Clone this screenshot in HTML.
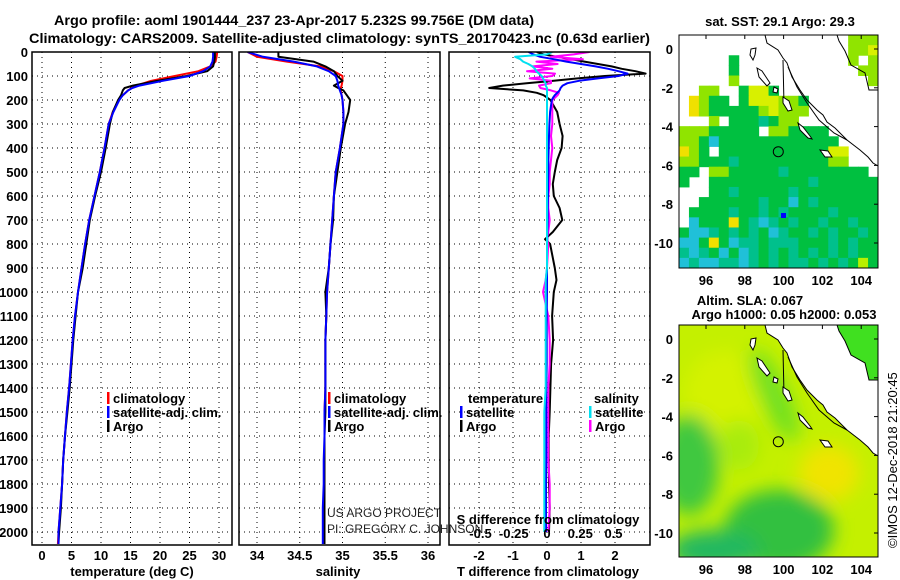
<!DOCTYPE html>
<html><head><meta charset="utf-8"><style>
html,body{margin:0;padding:0;background:#fff}
svg{display:block;font-family:"Liberation Sans",sans-serif}
.b{font-weight:bold}
</style></head><body>
<svg id="fig" width="900" height="580" viewBox="0 0 900 580" xmlns="http://www.w3.org/2000/svg">
<defs>
<clipPath id="c1"><rect x="32" y="52" width="200" height="493"/></clipPath>
<clipPath id="c2"><rect x="239" y="52" width="201" height="493"/></clipPath>
<clipPath id="c3"><rect x="449" y="52" width="201" height="493"/></clipPath>
<clipPath id="m1c"><rect x="0" y="0" width="199" height="233"/></clipPath>
<clipPath id="m2c"><rect x="0" y="0" width="199" height="232"/></clipPath>
<filter id="blur" x="-30%" y="-30%" width="160%" height="160%"><feGaussianBlur stdDeviation="9"/></filter>
</defs>
<text class="b" x="54" y="25" font-size="14" textLength="480" lengthAdjust="spacingAndGlyphs">Argo profile: aoml 1901444_237 23-Apr-2017 5.232S 99.756E (DM data)</text>
<text class="b" x="29" y="43" font-size="14" textLength="621" lengthAdjust="spacingAndGlyphs">Climatology: CARS2009. Satellite-adjusted climatology: synTS_20170423.nc (0.63d earlier)</text>
<g id="grid"></g>
<g id="series"></g>
<g id="frames" fill="none" stroke="#000" stroke-width="1.5">
<rect x="32" y="52" width="200" height="493"/>
<rect x="239" y="52" width="201" height="493"/>
<rect x="449" y="52" width="201" height="493"/>
</g>
<g id="labels" class="b" font-size="13"></g>
<text class="b" x="132" y="576" font-size="13" text-anchor="middle">temperature (deg C)</text>
<text class="b" x="338" y="576" font-size="13" text-anchor="middle">salinity</text>
<text class="b" x="548" y="576" font-size="13" text-anchor="middle">T difference from climatology</text>
<text class="b" x="548" y="524" font-size="13" text-anchor="middle">S difference from climatology</text>
<text x="327" y="517" font-size="12" fill="#222">US ARGO PROJECT</text>
<text x="327" y="533" font-size="12" fill="#222">PI: GREGORY C. JOHNSON</text>
<g id="legends" class="b" font-size="13"></g>

<text class="b" x="780" y="26" font-size="13" text-anchor="middle">sat. SST: 29.1 Argo: 29.3</text>
<g transform="translate(679,35)">
<g clip-path="url(#m1c)">
<rect width="199" height="233" fill="#fff"/>
<g id="sstcells"></g>
<g class="coast"></g>
<circle cx="99.3" cy="116.7" r="5" fill="none" stroke="#000" stroke-width="1"/>
</g>
<rect width="199" height="233" fill="none" stroke="#000" stroke-width="1"/>
</g>
<g id="m1ticks" class="b" font-size="13"></g>

<text class="b" x="750" y="305" font-size="13" text-anchor="middle">Altim. SLA: 0.067</text>
<text class="b" x="784" y="319" font-size="13" text-anchor="middle">Argo h1000: 0.05 h2000: 0.053</text>
<g transform="translate(679,325)">
<g clip-path="url(#m2c)">
<rect width="199" height="232" fill="#c4f000"/>
<g filter="url(#blur)">
<ellipse cx="45" cy="70" rx="40" ry="45" fill="#d4f200"/>
<ellipse cx="10" cy="140" rx="30" ry="50" fill="#40c840"/>
<ellipse cx="100" cy="205" rx="55" ry="40" fill="#30c040"/>
<ellipse cx="35" cy="225" rx="45" ry="20" fill="#20b860"/>
<ellipse cx="95" cy="70" rx="14" ry="50" fill="#70e020" transform="rotate(-25 95 70)"/>
<ellipse cx="150" cy="148" rx="30" ry="28" fill="#f0e400"/>
<ellipse cx="60" cy="120" rx="20" ry="25" fill="#a8ec10"/>
</g>
<polygon points="86,0 88,8 99,15 104,23 108,28 113,42 121,55 128,65 138,75 144,80 148,87 156,93 168,105 181,115 189,122 194,128 199,131 199,0" fill="#fff"/>
<polygon points="158,0 199,0 199,55 190,55 186,38 172,30 166,16 160,6" fill="#40e020"/>
<g class="coast"></g>
<circle cx="99.3" cy="116.7" r="5" fill="none" stroke="#000" stroke-width="1"/>
</g>
<rect width="199" height="232" fill="none" stroke="#000" stroke-width="1"/>
</g>
<g id="m2ticks" class="b" font-size="13"></g>
<text x="0" y="0" font-size="13" transform="translate(897,548) rotate(-90)">©IMOS 12-Dec-2018 21:20:45</text>
</svg>
<script>
const depths=[0,20,40,60,80,100,120,140,150,160,180,200,250,300,400,500,600,700,800,900,1000,1100,1200,1300,1400,1500,1600,1700,1800,1900,2000,2050];
const tempArgo=[29.3,29.3,29.2,29.0,28.0,24.5,19.5,15.4,14.0,13.7,13.4,12.9,12.0,11.5,10.8,10.0,9.0,8.1,7.5,6.9,6.1,5.7,5.3,5.0,4.7,4.3,3.9,3.6,3.4,3.2,2.9,2.8];
const tempClim=[29.7,29.6,29.4,28.5,26.5,22.5,18.5,16.0,15.2,14.6,13.7,13.0,12.0,11.3,10.6,9.8,8.9,8.0,7.3,6.7,6.1,5.6,5.2,4.9,4.6,4.2,3.9,3.6,3.4,3.1,2.8,2.7];
const tempSat=[29.0,29.0,28.9,28.5,27.3,25.0,20.5,16.5,15.3,14.6,13.7,13.1,12.1,11.3,10.6,9.8,8.9,8.0,7.3,6.7,6.1,5.6,5.2,4.9,4.6,4.2,3.9,3.6,3.4,3.1,2.8,2.8];
const salArgo=[34.25,34.25,34.66,34.8,34.9,34.94,35.0,34.9,34.95,35.01,35.05,35.09,35.07,35.03,34.98,34.94,34.9,34.89,34.86,34.84,34.8,34.81,34.8,34.8,34.8,34.8,34.79,34.79,34.79,34.79,34.79,34.79];
const salClim=[33.89,34.0,34.35,34.74,34.9,35.0,35.0,34.99,34.98,34.98,34.99,35.0,35.01,35.01,34.97,34.92,34.9,34.88,34.86,34.84,34.82,34.81,34.8,34.8,34.8,34.79,34.79,34.79,34.79,34.78,34.78,34.78];
const salSat=[33.89,34.07,34.43,34.7,34.84,34.92,34.94,34.95,34.96,34.97,34.99,35.0,35.01,35.01,34.97,34.92,34.9,34.88,34.86,34.84,34.82,34.81,34.8,34.8,34.8,34.79,34.79,34.78,34.78,34.77,34.77,34.77];
const diffDepths=[0,10,20,30,40,50,60,70,80,90,100,110,120,130,140,150,160,170,180,190,200,250,300,350,400,450,500,550,600,650,700,750,780,800,900,950,1000,1100,1200,1300,1400,1500,1600,1700,1800,1900,2000];
const tDiffArgo=[-0.3,-0.1,0.3,0.7,1.1,1.5,1.9,2.2,2.6,2.9,1.7,0.9,0.2,-0.6,-1.3,-1.7,-0.7,-0.3,-0.1,0.0,0.1,0.3,0.37,0.46,0.43,0.3,0.23,0.17,0.2,0.37,0.45,0.17,-0.06,0.09,0.23,0.28,0.2,0.15,0.18,0.12,0.1,0.08,0.05,0.05,0.06,0.08,0.06];
const tDiffSat=[-0.54,-0.4,-0.2,0.2,0.57,1.0,1.43,1.8,2.1,2.37,2.1,1.5,0.94,0.6,0.46,0.4,0.37,0.3,0.23,0.18,0.14,0.09,0.07,0.06,0.05,0.04,0.04,0.03,0.03,0.02,0.02,0.01,0.01,0.0,0.0,0.0,0.0,-0.01,-0.01,-0.01,-0.02,-0.02,-0.02,-0.02,-0.03,-0.03,-0.03];
const sDiffArgo=[0.32,0.2,0.03,0.27,-0.08,0.08,-0.11,0.04,-0.15,0.06,0.04,-0.13,0.03,0.03,-0.06,-0.05,0.03,0.09,0.08,0.06,0.04,0.04,0.04,0.03,0.04,0.03,0.02,0.02,0.01,0.01,0.02,0.01,0,0.01,0,-0.01,-0.03,0.01,0.02,0.02,0.01,0.01,0.01,0.01,0.02,0.02,0.01];
const sDiffSat=[0.04,0,-0.24,-0.2,-0.18,-0.14,-0.11,-0.09,-0.08,-0.06,-0.04,-0.03,-0.02,-0.01,-0.01,0,0,0,0,0,0,0,0,0,0,0,0,0,0,0,0,0,0,0,0,-0.01,-0.01,-0.01,-0.01,-0.01,-0.01,-0.02,-0.02,-0.02,-0.02,-0.02,-0.02];
const depthTicks=[0,100,200,300,400,500,600,700,800,900,1000,1100,1200,1300,1400,1500,1600,1700,1800,1900,2000];
const tempTicks=[0,5,10,15,20,25,30];
const salTicks=[34,34.5,35,35.5,36];
const tDiffTicks=[-2,-1,0,1,2];
const sDiffTicks=[-0.5,-0.25,0,0.25,0.5];
const sDiffTickLabels=["-0.5","-0.25","0","0.25","0.5"];
const lonTicks=[96,98,100,102,104];
const latTicks=[0,-2,-4,-6,-8,-10];
const sstGrid=[
".................lll",
".................lly",
".....g...........l.l",
".....g............ll",
".....l.............l",
"..ll..gyyg..........",
".Ylgg.gyyyllg.......",
".Ylggggglylll.......",
"...l.gggtgll........",
"lllggggg.llgggg.....",
"llgcgggggggggggg....",
"Ylg.gggggggggggyy...",
"llgggtgggggggggll...",
"gg.llgggggtgggggggg.",
"g..ggggggggggtgggggg",
"...ggtgggggtgggggggg",
"..ggggggtggcgtgggggg",
".ggggtggtgtggggtgggg",
".cgggYgtctgtggtggtgg",
"gcctgtgtgctggtgtggtg",
"ccgYgcttgtttgggtgtgg",
"tctgcgctgtgtgtgtgtgg",
"ctccttctgtgttgtgtgLg"];

const NS="http://www.w3.org/2000/svg";
function mk(tag,attrs,parent){const e=document.createElementNS(NS,tag);for(const k in attrs)e.setAttribute(k,attrs[k]);parent.appendChild(e);return e;}
const yD=d=>52+d*0.24;
const xT=t=>42+t*5.9;
const xS=s=>257+(s-34)*85.5;
const xTd=v=>547+v*34;
const xSd=v=>547+v*133;
const grid=document.getElementById('grid'),series=document.getElementById('series'),labels=document.getElementById('labels');
const panels=[[32,232],[239,440],[449,650]];
// horizontal grid
depthTicks.forEach(d=>{panels.forEach(p=>{const l=mk('line',{x1:p[0],x2:p[1],y1:yD(d),y2:yD(d),stroke:'#000','stroke-width':1,'stroke-dasharray':'1,4'},grid);

});
const t=mk('text',{x:28,y:yD(d)+5,'text-anchor':'end'},labels);t.textContent=d;

});
function vgrid(ticks,fx,lbls,ylab,withGrid){ticks.forEach((v,i)=>{const x=fx(v);
if(withGrid){const l=mk('line',{x1:x,x2:x,y1:52,y2:545,stroke:'#000','stroke-width':1,'stroke-dasharray':'1,4'},grid);

}
const t=mk('text',{x:x,y:ylab,'text-anchor':'middle'},labels);t.textContent=lbls?lbls[i]:v;

});}
vgrid(tempTicks,xT,null,560,true);
vgrid(salTicks,xS,null,560,true);
vgrid(tDiffTicks,xTd,null,560,true);
vgrid(sDiffTicks,xSd,sDiffTickLabels,538,false);
function line(xs,ds,fx,color,clip,name,w){const pts=xs.map((v,i)=>fx(v).toFixed(1)+','+yD(ds[i]).toFixed(1)).join(' ');
const p=mk('polyline',{points:pts,fill:'none',stroke:color,'stroke-width':w||2,'clip-path':'url(#'+clip+')','stroke-linejoin':'round'},series);

}
line(tempClim,depths,xT,'#ff0000','c1','temperature-climatology-line');
line(tempArgo,depths,xT,'#000000','c1','temperature-argo-line');
line(tempSat,depths,xT,'#0000ff','c1','temperature-satellite-line');
line(salClim,depths,xS,'#ff0000','c2','salinity-climatology-line');
line(salArgo,depths,xS,'#000000','c2','salinity-argo-line');
line(salSat,depths,xS,'#0000ff','c2','salinity-satellite-line');
line(tDiffArgo,diffDepths,xTd,'#000000','c3','t-diff-argo-line');
line(sDiffArgo,diffDepths,xSd,'#ff00ff','c3','s-diff-argo-line');
line(tDiffSat,diffDepths,xTd,'#0000ff','c3','t-diff-satellite-line');
line(sDiffSat,diffDepths,xSd,'#00e0f0','c3','s-diff-satellite-line');
// legends
const lg=document.getElementById('legends');
function leg(x,y,color,txt,name){const r=mk('rect',{x:x,y:y-11,width:2.5,height:12,fill:color},lg);


const t=mk('text',{x:x+6,y:y},lg);t.textContent=txt;

}
leg(107,403,'#ff0000','climatology','legend-climatology');
leg(107,417,'#0000ff','satellite-adj. clim.','legend-satellite-adj');
leg(107,431,'#000','Argo','legend-argo');
leg(328,403,'#ff0000','climatology','legend-sal-climatology');
leg(328,417,'#0000ff','satellite-adj. clim.','legend-sal-satellite-adj');
leg(328,431,'#000','Argo','legend-sal-argo');
leg(460,417,'#0000ff','satellite','legend-t-satellite');
leg(460,431,'#000','Argo','legend-t-argo');
leg(589,417,'#00e0f0','satellite','legend-s-satellite');
leg(589,431,'#ff00ff','Argo','legend-s-argo');
{const t=mk('text',{x:468,y:403},lg);t.textContent='temperature';


const s=mk('text',{x:594,y:403},lg);s.textContent='salinity';

}
// SST grid
const colors={g:'#00c040',t:'#00c08c',c:'#20c0d8',l:'#90e400',L:'#b8f000',y:'#d8f000',Y:'#f0e000'};
const cells=document.getElementById('sstcells');
sstGrid.forEach((row,r)=>{[...row].forEach((ch,c)=>{if(colors[ch]){const e=mk('rect',{x:c*9.95,y:r*10.13,width:10.5,height:10.6,fill:colors[ch]},cells);

}});});
{const e=mk('rect',{x:102,y:178,width:5,height:5,fill:'#0000ff'},cells);

}
// coastlines
const coastLines=[
"86,0 88,8 99,15 104,23 108,28 113,42 121,55 128,65 138,75 144,80 148,87 156,93 168,105 181,115 189,122 194,128 199,131",
"104,25 105,70",
"109,32 118,52 128,68 140,85 155,98 168,105",
"158,0 160,6 166,16 172,30 186,38 190,55 199,55"];
const islands=["72,14 77,13 76,20 74,25 71,20","78,33 83,36 91,48 88,51 80,42","95,52 99,54 98,58 94,57","104,62 110,66 113,75 109,76 104,68","119,88 124,92 131,101 133,104 129,103 121,95","141,115 149,116 153,122 146,122"];
document.querySelectorAll('.coast').forEach(g=>{coastLines.forEach(p=>{const e=mk('polyline',{points:p,fill:'none',stroke:'#000','stroke-width':1},g);

});
islands.forEach(p=>{const e=mk('polygon',{points:p,fill:'#fff',stroke:'#000','stroke-width':1},g);

});});
// map ticks
function mapTicks(id,top,lat0y){const g=document.getElementById(id);
lonTicks.forEach(l=>{const x=706+(l-96)*19.4;
if(id==='m1ticks'){const t=mk('text',{x:x,y:top+250,'text-anchor':'middle'},g);t.textContent=l;

}
else{const t=mk('text',{x:x,y:top+249,'text-anchor':'middle'},g);t.textContent=l;

}
mk('line',{x1:x,x2:x,y1:top,y2:top+4,stroke:'#000'},g);});
latTicks.forEach(l=>{const y=lat0y-l*19.4;const t=mk('text',{x:673,y:y+5,'text-anchor':'end'},g);t.textContent=l;


mk('line',{x1:874,x2:878,y1:y,y2:y,stroke:'#000'},g);});}
mapTicks('m1ticks',35,49);
mapTicks('m2ticks',325,339);
</script>
</body></html>
